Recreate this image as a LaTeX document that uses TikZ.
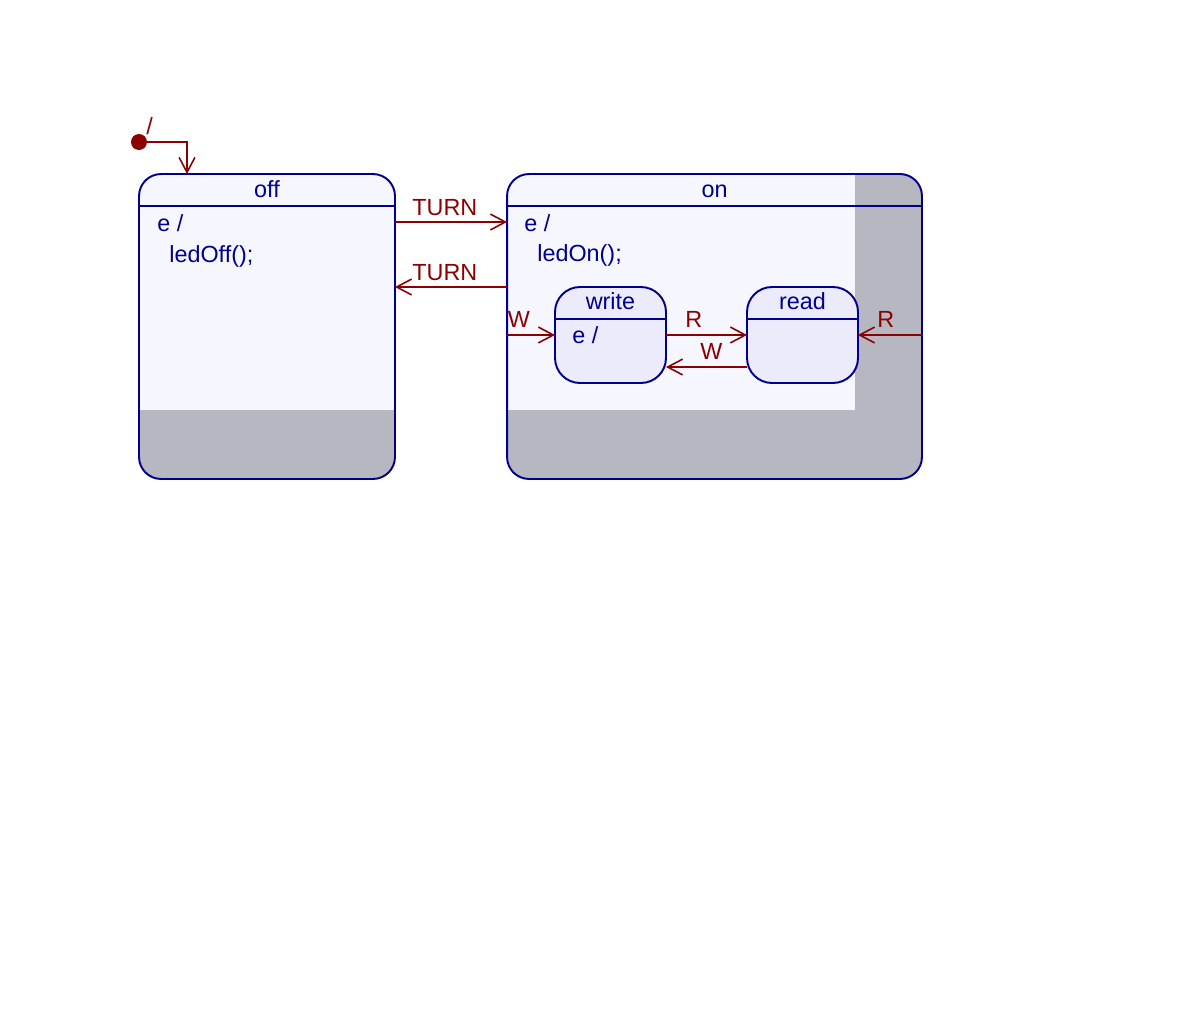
\documentclass[tikz,border=0pt]{standalone}
\usepackage{fontspec}
\setmainfont{Liberation Sans}
\usetikzlibrary{arrows.meta}
\definecolor{stnavy}{RGB}{0,0,140}
\definecolor{trred}{RGB}{139,0,0}
\definecolor{stpale}{RGB}{245,246,254}
\definecolor{stinner}{RGB}{235,235,252}
\definecolor{stgray}{RGB}{182,183,192}
\tikzset{
  state/.style={draw=stnavy, line width=1.1pt, rounded corners=0.44cm, inner sep=0pt, outer sep=0pt},
  substate/.style={state, fill=stinner, rounded corners=0.5cm},
  trans/.style={draw=trred, line width=0.9pt, -{Straight Barb[length=8.5pt,width=9pt]}},
  lbl/.style={text=trred, anchor=base west, inner sep=0pt, font=\fontsize{13.3}{16}\selectfont},
  txt/.style={text=stnavy, anchor=base west, inner sep=0pt, font=\fontsize{13.3}{16}\selectfont},
  ttl/.style={text=stnavy, anchor=base, inner sep=0pt, font=\fontsize{13.3}{16}\selectfont}
}
\begin{document}
\begin{tikzpicture}[x=0.02cm,y=-0.02cm]
\useasboundingbox (0,0) rectangle (1200,1024);

\begin{scope}
\clip[rounded corners=0.44cm] (139,174) rectangle (395,479);
\fill[stgray] (139,174) rectangle (395,479);
\fill[stpale] (139,174) rectangle (395,410);
\end{scope}
\begin{scope}
\clip[rounded corners=0.44cm] (507,174) rectangle (922,479);
\fill[stgray] (507,174) rectangle (922,479);
\fill[stpale] (507,174) rectangle (855,410);
\end{scope}

\node[state, minimum width=5.12cm, minimum height=6.1cm] (off) at (267,326.5) {};
\node[state, minimum width=8.3cm, minimum height=6.1cm] (on) at (714.5,326.5) {};
\node[substate, minimum width=2.22cm, minimum height=1.92cm] (write) at (610.5,335) {};
\node[substate, minimum width=2.22cm, minimum height=1.92cm] (read) at (802.5,335) {};

\draw[stnavy, line width=1.1pt] (off.west |- 0,206) -- (off.east |- 0,206);
\draw[stnavy, line width=1.1pt] (on.west |- 0,206) -- (on.east |- 0,206);
\draw[stnavy, line width=1.1pt] (write.west |- 0,319) -- (write.east |- 0,319);
\draw[stnavy, line width=1.1pt] (read.west |- 0,319) -- (read.east |- 0,319);

\node[ttl] (offttl) at (267,197) {off};
\node[txt] (offentry) at (157,231) {e /};
\node[txt] (offact) at (169,262) {ledOff();};
\node[ttl] (onttl) at (714.5,197) {on};
\node[txt] (onentry) at (524,231) {e /};
\node[txt] (onact) at (537,261) {ledOn();};
\node[ttl] (writettl) at (610.5,309) {write};
\node[txt] (writeentry) at (572,343) {e /};
\node[ttl] (readttl) at (802.5,309) {read};

\node[circle, fill=trred, minimum size=0.32cm, inner sep=0pt] (init) at (139,142) {};
\draw[trans] (init.center) -| (187,0 |- off.north);
\node[lbl] (initlbl) at (146,134) {/};

\draw[trans] (off.east |- 0,222) -- (on.west |- 0,222);
\draw[trans] (on.west |- 0,287) -- (off.east |- 0,287);
\draw[trans] (on.west |- 0,335) -- (write.west);
\draw[trans] (write.east) -- (read.west);
\draw[trans] (read.west |- 0,367) -- (write.east |- 0,367);
\draw[trans] (on.east |- 0,335) -- (read.east);

\node[lbl] (turnon) at (412,215) {TURN};
\node[lbl] (turnoff) at (412,280) {TURN};
\node[lbl] (wlblin) at (507.5,327) {W};
\node[lbl] (rlbl) at (685,327) {R};
\node[lbl] (wlbl) at (700,359) {W};
\node[lbl] (rlblin) at (877,327) {R};
\end{tikzpicture}
\end{document}
